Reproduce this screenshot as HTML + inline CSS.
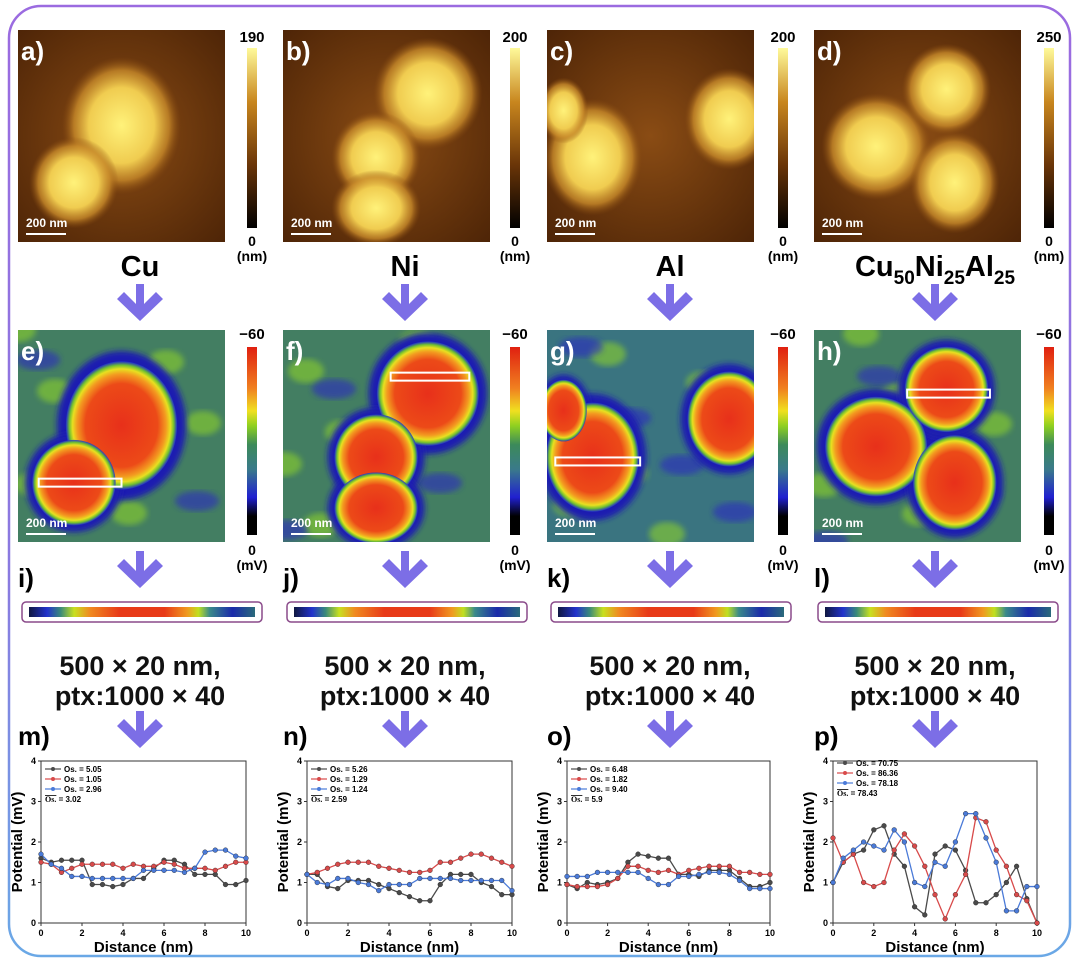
<!DOCTYPE html>
<html><head><meta charset="utf-8">
<style>
html,body{margin:0;padding:0;background:#fff;}
svg{display:block;font-family:"Liberation Sans",Arial,sans-serif;}
</style></head>
<body>
<svg id="fig" width="1080" height="965" viewBox="0 0 1080 965" xmlns="http://www.w3.org/2000/svg">
<defs>
 <linearGradient id="frame" x1="0" y1="0" x2="0" y2="1">
  <stop offset="0" stop-color="#9b6be0"/><stop offset="0.6" stop-color="#8a7ae0"/><stop offset="1" stop-color="#6aa8e6"/>
 </linearGradient>
 <linearGradient id="afmbar" x1="0" y1="1" x2="0" y2="0">
  <stop offset="0" stop-color="#000"/><stop offset="0.35" stop-color="#6a3508"/><stop offset="0.7" stop-color="#c8861e"/><stop offset="1" stop-color="#fffa9a"/>
 </linearGradient>
 <linearGradient id="kpbar" x1="0" y1="1" x2="0" y2="0">
  <stop offset="0" stop-color="#000"/><stop offset="0.1" stop-color="#000"/><stop offset="0.2" stop-color="#2020d0"/><stop offset="0.35" stop-color="#3a7a8a"/><stop offset="0.48" stop-color="#3c8a5a"/><stop offset="0.58" stop-color="#8ed020"/><stop offset="0.66" stop-color="#f0e020"/><stop offset="0.78" stop-color="#f08020"/><stop offset="1" stop-color="#e02010"/>
 </linearGradient>
 <radialGradient id="afmbg" cx="0.5" cy="0.5" r="0.75"><stop offset="0" stop-color="#8a4c14"/><stop offset="1" stop-color="#4a2206"/></radialGradient>
 <radialGradient id="afmblob"><stop offset="0" stop-color="#fff27a"/><stop offset="0.55" stop-color="#f0cc50"/><stop offset="0.8" stop-color="#c88a2a" stop-opacity="0.8"/><stop offset="1" stop-color="#8a4c10" stop-opacity="0"/></radialGradient>
 <radialGradient id="kpblob"><stop offset="0" stop-color="#e8301a"/><stop offset="0.65" stop-color="#ec4a18"/><stop offset="0.8" stop-color="#f39a20"/><stop offset="0.88" stop-color="#e8e020"/><stop offset="0.94" stop-color="#70c030"/><stop offset="1" stop-color="#2030d0" stop-opacity="0.9"/></radialGradient>
 <filter id="blur"><feGaussianBlur stdDeviation="3"/></filter>
</defs>
<rect x="9" y="6" width="1061" height="950" rx="32" fill="none" stroke="url(#frame)" stroke-width="2.5"/>
<g id="panels"></g>
<g id="charts"></g>
</svg>
<script>
// ---------- chart data (m,n,o,p) ----------
const distance = [0,0.5,1,1.5,2,2.5,3,3.5,4,4.5,5,5.5,6,6.5,7,7.5,8,8.5,9,9.5,10];
const xTicks = [0,2,4,6,8,10];
const yTicks = [0,1,2,3,4];
const mBlack = [1.6,1.5,1.55,1.55,1.55,0.95,0.95,0.9,0.95,1.1,1.1,1.35,1.55,1.55,1.45,1.2,1.2,1.2,0.95,0.95,1.05];
const mRed   = [1.5,1.45,1.25,1.35,1.45,1.45,1.45,1.45,1.35,1.45,1.4,1.4,1.5,1.45,1.35,1.35,1.35,1.3,1.4,1.5,1.5];
const mBlue  = [1.7,1.45,1.35,1.15,1.15,1.1,1.1,1.1,1.1,1.1,1.3,1.3,1.3,1.3,1.25,1.35,1.75,1.8,1.8,1.65,1.6];
const nBlack = [1.2,1.2,0.9,0.85,1.05,1.05,1.05,0.95,0.85,0.75,0.65,0.55,0.55,0.95,1.2,1.2,1.2,1.0,0.9,0.7,0.7];
const nRed   = [1.2,1.25,1.35,1.45,1.5,1.5,1.5,1.4,1.35,1.3,1.25,1.25,1.3,1.5,1.5,1.6,1.7,1.7,1.6,1.5,1.4];
const nBlue  = [1.2,1.0,0.95,1.1,1.1,1.0,0.95,0.8,0.95,0.95,0.95,1.1,1.1,1.1,1.1,1.05,1.05,1.05,1.05,1.05,0.8];
const oBlack = [0.95,0.85,1.0,0.95,1.0,1.1,1.5,1.7,1.65,1.6,1.6,1.2,1.2,1.15,1.3,1.3,1.3,1.1,0.9,0.9,1.0];
const oRed   = [0.95,0.9,0.9,0.9,0.95,1.1,1.4,1.4,1.3,1.25,1.3,1.2,1.3,1.35,1.4,1.4,1.4,1.25,1.25,1.2,1.2];
const oBlue  = [1.15,1.15,1.15,1.25,1.25,1.25,1.25,1.25,1.1,0.95,0.95,1.15,1.15,1.2,1.25,1.25,1.2,1.05,0.85,0.85,0.85];
const pBlack = [1.0,1.5,1.7,1.8,2.3,2.4,1.7,1.4,0.4,0.2,1.7,1.9,1.8,1.3,0.5,0.5,0.7,1.0,1.4,0.6,0.0];
const pRed   = [2.1,1.5,1.7,1.0,0.9,1.0,1.8,2.2,1.9,1.4,0.7,0.1,0.7,1.2,2.6,2.5,1.8,1.4,0.7,0.55,0.0];
const pBlue  = [1.0,1.6,1.8,2.0,1.9,1.8,2.3,2.0,1.0,0.9,1.5,1.4,2.0,2.7,2.7,2.1,1.5,0.3,0.3,0.9,0.9];
const legendM = ["Os. = 5.05","Os. = 1.05","Os. = 2.96","3.02"];
const legendN = ["Os. = 5.26","Os. = 1.29","Os. = 1.24","2.59"];
const legendO = ["Os. = 6.48","Os. = 1.82","Os. = 9.40","5.9"];
const legendP = ["Os. = 70.75","Os. = 86.36","Os. = 78.18","78.43"];

const NS="http://www.w3.org/2000/svg";
function mk(tag,attrs,parent){const e=document.createElementNS(NS,tag);for(const k in attrs)e.setAttribute(k,attrs[k]);parent.appendChild(e);return e;}
const panels=document.getElementById('panels');
const charts=document.getElementById('charts');

const cols=[18,283,547,814];
const cbx=[247,510,778,1044];
const afmMax=["190","200","200","250"];
const mats=["Cu","Ni","Al",null];
const letters1=["a)","b)","c)","d)"],letters2=["e)","f)","g)","h)"],letters3=["i)","j)","k)","l)"],letters4=["m)","n)","o)","p)"];
const blobs=[
 [[0.5,0.45,0.24,0.27],[0.27,0.72,0.18,0.18]],
 [[0.7,0.3,0.22,0.22],[0.45,0.6,0.18,0.18],[0.45,0.84,0.18,0.15]],
 [[0.22,0.6,0.2,0.23],[0.88,0.42,0.18,0.2],[0.08,0.38,0.1,0.13]],
 [[0.3,0.55,0.22,0.21],[0.68,0.72,0.18,0.2],[0.64,0.28,0.18,0.18]]
];
const rects=[[0.1,0.72,0.5],[0.52,0.22,0.9],[0.04,0.62,0.45],[0.45,0.3,0.85]];
const cx0=[140,405,670,935];

function arrow(cx,y0,name){
 const g=mk('g',{},panels);
 
 
 mk('path',{d:`M${cx-4} ${y0} h8 v20 l12 -12 l7 7 l-23 22 l-23 -22 l7 -7 l12 12 z`,fill:'#7c6ee6'},g);
}

for(let i=0;i<4;i++){
 const x=cols[i],w=207;
 const g=mk('g',{},panels);
 
 
 const cp=mk('clipPath',{id:'c1'+i},g);mk('rect',{x:x,y:30,width:w,height:212},cp);
 const gi=mk('g',{'clip-path':`url(#c1${i})`},g);
 mk('rect',{x:x,y:30,width:w,height:212,fill:'url(#afmbg)'},gi);
 blobs[i].forEach(b=>mk('ellipse',{cx:x+b[0]*w,cy:30+b[1]*212,rx:b[2]*w*1.2,ry:b[3]*212*1.2,fill:'url(#afmblob)'},gi));
 const t=mk('text',{x:x+3,y:60,'font-size':26,'font-weight':'bold',fill:'#fff'},g);t.textContent=letters1[i];
 mk('line',{x1:x+8,y1:234,x2:x+48,y2:234,stroke:'#fff','stroke-width':2},g);
 const sb=mk('text',{x:x+8,y:227,'font-size':12,'font-weight':'bold',fill:'#fff'},g);sb.textContent='200 nm';
 const cb=mk('rect',{x:cbx[i],y:48,width:10,height:180,fill:'url(#afmbar)'},panels);
 
 const t1=mk('text',{x:cbx[i]+5,y:42,'font-size':15,'font-weight':'bold','text-anchor':'middle'},panels);t1.textContent=afmMax[i];
 const t2=mk('text',{x:cbx[i]+5,y:246,'font-size':14,'font-weight':'bold','text-anchor':'middle'},panels);t2.textContent='0';
 const t3=mk('text',{x:cbx[i]+5,y:261,'font-size':14,'font-weight':'bold','text-anchor':'middle'},panels);t3.textContent='(nm)';
 const ml=mk('text',{x:cx0[i],y:276,'font-size':29,'font-weight':'bold','text-anchor':'middle'},panels);
 
 if(mats[i]) ml.textContent=mats[i];
 else ml.innerHTML='Cu<tspan font-size="19" dy="8">50</tspan><tspan dy="-8">Ni</tspan><tspan font-size="19" dy="8">25</tspan><tspan dy="-8">Al</tspan><tspan font-size="19" dy="8">25</tspan>';
 arrow(cx0[i],284,'arrow-down');
 const g2=mk('g',{},panels);
 
 
 const cp2=mk('clipPath',{id:'c2'+i},g2);mk('rect',{x:x,y:330,width:w,height:212},cp2);
 const gk=mk('g',{'clip-path':`url(#c2${i})`},g2);
 mk('rect',{x:x,y:330,width:w,height:212,fill:i==2?'#3a7480':'#437e62'},gk);
 for(let k=0;k<7;k++) mk('ellipse',{cx:x+((k*37+i*23)%w),cy:330+((k*61+i*41)%212),rx:18,ry:12,fill:'#8cd22a',opacity:0.6,filter:'url(#blur)'},gk);
 for(let k=0;k<4;k++) mk('ellipse',{cx:x+((k*53+i*31+20)%w),cy:330+((k*47+i*29+30)%212),rx:22,ry:10,fill:'#2a2ac0',opacity:0.6,filter:'url(#blur)'},gk);
 blobs[i].forEach(b=>mk('ellipse',{cx:x+b[0]*w,cy:330+b[1]*212,rx:b[2]*w*1.3,ry:b[3]*212*1.3,fill:'#1e1eb0',filter:'url(#blur)'},gk));
 blobs[i].forEach(b=>mk('ellipse',{cx:x+b[0]*w,cy:330+b[1]*212,rx:b[2]*w*1.12,ry:b[3]*212*1.12,fill:'url(#kpblob)'},gk));
 const r=rects[i];
 mk('rect',{x:x+r[0]*w,y:330+r[1]*212-4,width:(r[2]-r[0])*w,height:8,fill:'none',stroke:'#fff','stroke-width':2},g2);
 const t4=mk('text',{x:x+3,y:360,'font-size':26,'font-weight':'bold',fill:'#fff'},g2);t4.textContent=letters2[i];
 mk('line',{x1:x+8,y1:534,x2:x+48,y2:534,stroke:'#fff','stroke-width':2},g2);
 const sb2=mk('text',{x:x+8,y:527,'font-size':12,'font-weight':'bold',fill:'#fff'},g2);sb2.textContent='200 nm';
 const cb2=mk('rect',{x:cbx[i],y:347,width:10,height:188,fill:'url(#kpbar)'},panels);
 
 const t5=mk('text',{x:cbx[i]+5,y:339,'font-size':15,'font-weight':'bold','text-anchor':'middle'},panels);t5.textContent='−60';
 const t6=mk('text',{x:cbx[i]+5,y:555,'font-size':14,'font-weight':'bold','text-anchor':'middle'},panels);t6.textContent='0';
 const t7=mk('text',{x:cbx[i]+5,y:570,'font-size':14,'font-weight':'bold','text-anchor':'middle'},panels);t7.textContent='(mV)';
 const l3=mk('text',{x:x,y:587,'font-size':26,'font-weight':'bold'},panels);l3.textContent=letters3[i];
 arrow(cx0[i],551,'arrow-down');
 const sx=x+4,sw=240;
 const sg=mk('g',{},panels);
 
 const lg=mk('linearGradient',{id:'sg'+i},sg);
 [[0,'#101840'],[0.08,'#2233cc'],[0.14,'#3a8a7a'],[0.2,'#c8e020'],[0.27,'#f08a20'],[0.4,'#e83a18'],[0.6,'#e83a18'],[0.7,'#f09a20'],[0.75,'#c0e020'],[0.8,'#3a8a8a'],[0.9,'#1a2aaa'],[1,'#2a6a7a']].forEach(s=>mk('stop',{offset:s[0],'stop-color':s[1]},lg));
 mk('rect',{x:sx,y:602,width:sw,height:20,rx:4,fill:'#fff',stroke:'#8a4a8a','stroke-width':1.5},sg);
 mk('rect',{x:sx+7,y:607,width:sw-14,height:10,fill:`url(#sg${i})`},sg);
 const tl1=mk('text',{x:cx0[i],y:675,'font-size':27,'font-weight':'bold','text-anchor':'middle',fill:'#111'},panels);tl1.textContent='500 × 20 nm,';
 const tl2=mk('text',{x:cx0[i],y:705,'font-size':27,'font-weight':'bold','text-anchor':'middle',fill:'#111'},panels);tl2.textContent='ptx:1000 × 40';
 const l4=mk('text',{x:x,y:745,'font-size':26,'font-weight':'bold'},panels);l4.textContent=letters4[i];
 arrow(cx0[i],711,'arrow-down');
}

// ---------- charts ----------
const axesX=[[41,246],[307,512],[567,770],[833,1037]];
const Y0=923,Y4=761;
const seriesSets=[[mBlack,mRed,mBlue],[nBlack,nRed,nBlue],[oBlack,oRed,oBlue],[pBlack,pRed,pBlue]];
const legends=[legendM,legendN,legendO,legendP];
const colors=['#4a4a4a','#d84a4a','#4a7ad8'];
const names=['m','n','o','p'];
for(let c=0;c<4;c++){
 const [x0,x1]=axesX[c];
 const xs=v=>x0+(v-0)/(10-0)*(x1-x0);
 const ys=v=>Y0-(v-0)/(4-0)*(Y0-Y4);
 const g=mk('g',{},charts);
 
 
 mk('rect',{x:x0,y:Y4,width:x1-x0,height:Y0-Y4,fill:'#fff',stroke:'#333','stroke-width':1},g);
 xTicks.forEach(t=>{mk('line',{x1:xs(t),x2:xs(t),y1:Y0,y2:Y0+3,stroke:'#333'},g);
  const e=mk('text',{x:xs(t),y:Y0+13,'font-size':9,'font-weight':'bold','text-anchor':'middle'},g);e.textContent=t;});
 yTicks.forEach(t=>{mk('line',{x1:x0-3,x2:x0,y1:ys(t),y2:ys(t),stroke:'#333'},g);
  const e=mk('text',{x:x0-5,y:ys(t)+3,'font-size':9,'font-weight':'bold','text-anchor':'end'},g);e.textContent=t;});
 const xt=mk('text',{x:(x0+x1)/2,y:952,'font-size':15,'font-weight':'bold','text-anchor':'middle'},g);
 xt.textContent='Distance (nm)';
 const yt=mk('text',{x:0,y:0,'font-size':15,'font-weight':'bold','text-anchor':'middle',transform:`translate(${x0-19},${(Y0+Y4)/2}) rotate(-90)`},g);
 yt.textContent='Potential (mV)';
 seriesSets[c].forEach((arr,si)=>{
  const pts=arr.map((v,k)=>xs(distance[k])+','+ys(v)).join(' ');
  const pl=mk('polyline',{points:pts,fill:'none',stroke:colors[si],'stroke-width':1.3},g);
  
  arr.forEach((v,k)=>{const p=mk('circle',{cx:xs(distance[k]),cy:ys(v),r:2.4,fill:colors[si],stroke:'#222','stroke-width':0.4},g);
   });
 });
 const L=legends[c];
 for(let si=0;si<3;si++){
  const ly=Y4+(c==3?2:8)+si*10;
  mk('line',{x1:x0+4,x2:x0+20,y1:ly,y2:ly,stroke:colors[si],'stroke-width':1.2},g);
  mk('circle',{cx:x0+12,cy:ly,r:2,fill:colors[si]},g);
  const lt=mk('text',{x:x0+23,y:ly+3,'font-size':8,'font-weight':'bold'},g);
  lt.textContent=L[si];
 }
 const avy=Y4+(c==3?2:8)+33;
 const av=mk('text',{x:x0+4,y:avy,'font-size':8,'font-weight':'bold'},g);
 av.innerHTML='<tspan text-decoration="overline" font-family="Liberation Serif">Os.</tspan> = '+L[3];
}
</script>
</body></html>
